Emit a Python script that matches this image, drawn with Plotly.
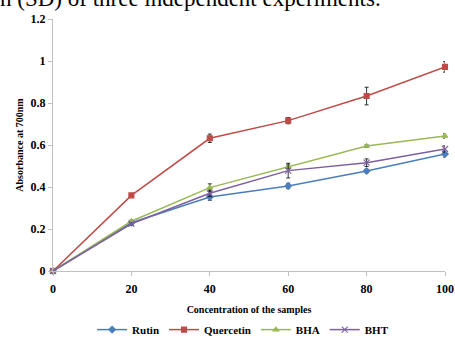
import plotly.graph_objects as go

conc = [0, 20, 40, 60, 80, 100]
rutin = [0, 0.23, 0.352, 0.405, 0.476, 0.557]
rutin_sd = [0, 0.005, 0.015, 0.013, 0.008, 0.015]
quercetin = [0, 0.36, 0.632, 0.716, 0.833, 0.972]
quercetin_sd = [0, 0.008, 0.02, 0.015, 0.042, 0.025]
bha = [0, 0.237, 0.397, 0.497, 0.595, 0.643]
bha_sd = [0, 0.005, 0.018, 0.008, 0.006, 0.01]
bht = [0, 0.225, 0.37, 0.478, 0.516, 0.581]
bht_sd = [0, 0.005, 0.015, 0.035, 0.018, 0.015]

names = ["Rutin", "Quercetin", "BHA", "BHT"]
colors = ["#4A7EBB", "#BE4B48", "#98B954", "#7D60A0"]
symbols = ["diamond", "square", "triangle-up", "x-thin-open"]
series = [(rutin, rutin_sd), (quercetin, quercetin_sd), (bha, bha_sd), (bht, bht_sd)]

serif = "Liberation Serif"
fig = go.Figure()
for name, col, sym, (vals, sd) in zip(names, colors, symbols, series):
    fig.add_trace(go.Scatter(
        x=conc, y=vals, name=name, mode="lines+markers",
        line=dict(color=col, width=1.5),
        marker=dict(symbol=sym, color=col, size=5 if sym != "x-thin-open" else 6,
                    line=dict(color=col, width=1.1)),
        error_y=dict(type="data", array=sd, visible=True, color="black",
                     thickness=0.8, width=2),
        cliponaxis=False,
    ))

fig.update_layout(
    width=455, height=339,
    margin=dict(l=53, r=10, t=19, b=68, autoexpand=False),
    paper_bgcolor="white", plot_bgcolor="white",
    showlegend=True,
    legend=dict(orientation="h", x=0.485, xanchor="center", y=-0.175, yanchor="top",
                font=dict(family=serif, size=11, color="black", weight="bold"),
                itemwidth=30, tracegroupgap=0),
    xaxis=dict(range=[0, 100], tickvals=conc, ticktext=[str(c) for c in conc],
               automargin=False,
               showgrid=False, zeroline=False, showline=True, linecolor="#bfbfbf",
               linewidth=1, ticks="outside", ticklen=4, tickcolor="#bfbfbf",
               ticklabelstandoff=3,
               tickfont=dict(family=serif, size=12, color="black", weight="bold"),
               title=dict(text="<b>Concentration of the samples</b>",
                          font=dict(family=serif, size=10, color="black"), standoff=10)),
    yaxis=dict(range=[0, 1.2], tickvals=[0, 0.2, 0.4, 0.6, 0.8, 1.0, 1.2],
               ticktext=["0", "0.2", "0.4", "0.6", "0.8", "1", "1.2"],
               automargin=False,
               showgrid=False, zeroline=False, showline=True, linecolor="#bfbfbf",
               linewidth=1, ticks="outside", ticklen=4, tickcolor="#bfbfbf",
               tickfont=dict(family=serif, size=12, color="black", weight="bold"),
               title=dict(text="<b>Absorbance at 700nm</b>",
                          font=dict(family=serif, size=10, color="black"), standoff=5)),
    annotations=[dict(text="n (SD) of three independent experiments.",
                      xref="paper", yref="paper", x=-55/392, xanchor="left",
                      y=1 + 21/252, yanchor="middle", showarrow=False,
                      font=dict(family=serif, size=23, color="black"))],
)
fig.write_html("out.html", config={"displayModeBar": False},
               post_script="document.body.style.margin='0';document.body.style.overflow='hidden';")
